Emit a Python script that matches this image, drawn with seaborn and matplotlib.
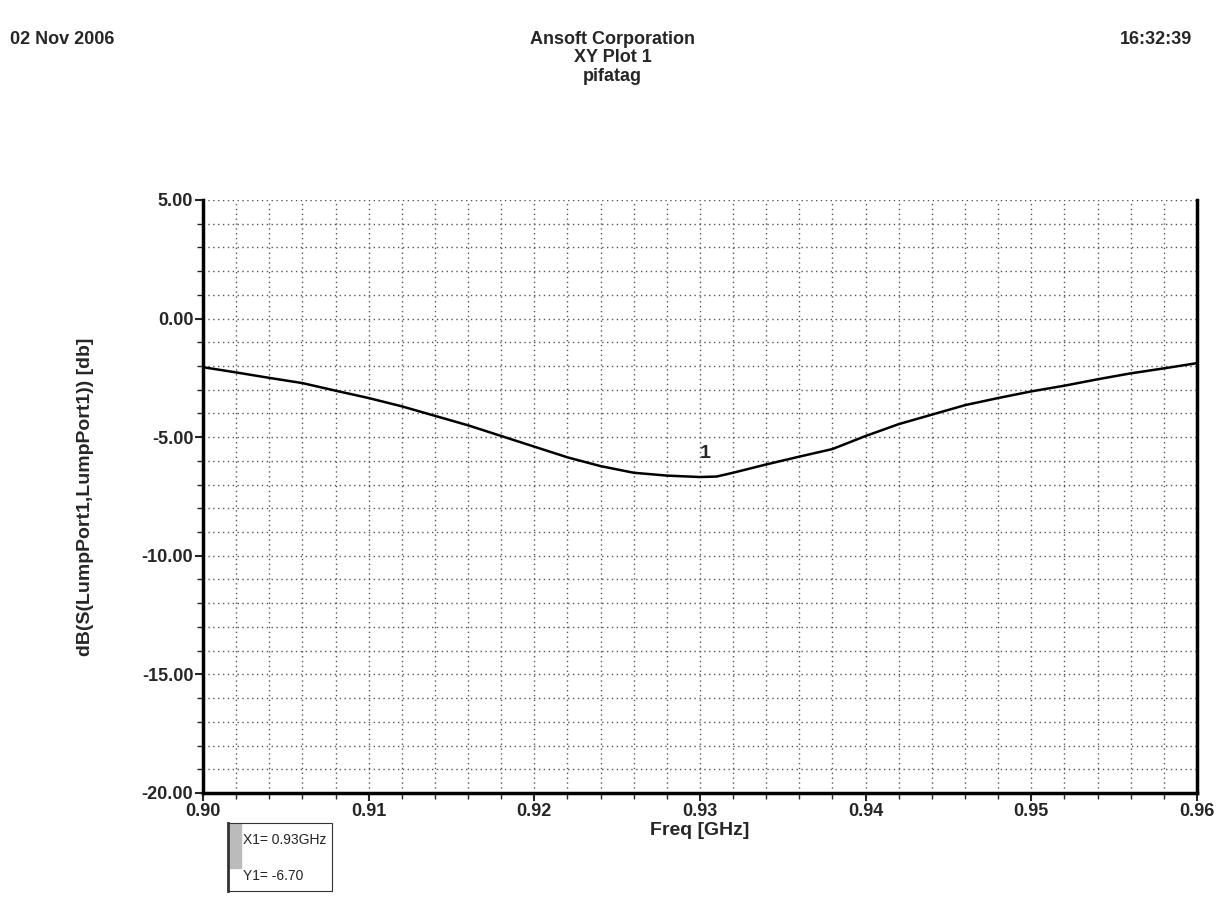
import numpy as np
import pandas as pd
import matplotlib
matplotlib.use("Agg")
import matplotlib.pyplot as plt
from matplotlib.ticker import MultipleLocator, FormatStrFormatter
import seaborn as sns

# S11 sweep
freq_ghz = [0.900, 0.902, 0.904, 0.906, 0.908, 0.910, 0.912, 0.914, 0.916, 0.918,
            0.920, 0.922, 0.924, 0.926, 0.928, 0.929, 0.930, 0.931, 0.932, 0.934,
            0.936, 0.938, 0.940, 0.942, 0.944, 0.946, 0.948, 0.950, 0.952, 0.954,
            0.956, 0.958, 0.960]
s11_db = [-2.05, -2.27, -2.50, -2.72, -3.04, -3.35, -3.70, -4.10, -4.50, -4.95,
          -5.40, -5.85, -6.22, -6.50, -6.62, -6.65, -6.68, -6.66, -6.50, -6.15,
          -5.82, -5.50, -4.95, -4.45, -4.05, -3.65, -3.35, -3.07, -2.83, -2.56,
          -2.31, -2.10, -1.88]
marker_x = 0.93
marker_y = -6.70

df = pd.DataFrame({"Freq": freq_ghz, "dB": s11_db})

sns.set_style("white")
plt.rcParams["font.family"] = ["Liberation Sans", "DejaVu Sans"]

fig = plt.figure(figsize=(12.25, 9.16), dpi=100)
ax = fig.add_axes([0.1657, 0.1343, 0.8114, 0.6474])

sns.lineplot(data=df, x="Freq", y="dB", ax=ax, color="black", linewidth=1.8)

ax.set_xlim(0.90, 0.96)
ax.set_ylim(-20, 5)
ax.xaxis.set_major_locator(MultipleLocator(0.01))
ax.xaxis.set_minor_locator(MultipleLocator(0.002))
ax.yaxis.set_major_locator(MultipleLocator(5))
ax.yaxis.set_minor_locator(MultipleLocator(1))
ax.xaxis.set_major_formatter(FormatStrFormatter("%.2f"))
ax.yaxis.set_major_formatter(FormatStrFormatter("%.2f"))

ax.grid(True, which="both", linestyle=(0, (1, 2.5)), color="#555555", linewidth=1)
ax.tick_params(axis="both", which="major", direction="out", length=6, width=1.5,
               labelsize=13, bottom=True, left=True, pad=1)
ax.tick_params(axis="both", which="minor", direction="out", length=4, width=1,
               bottom=True, left=True)
for lbl in ax.get_xticklabels() + ax.get_yticklabels():
    lbl.set_fontweight("bold")

for side in ["left", "bottom", "right"]:
    ax.spines[side].set_color("black")
    ax.spines[side].set_linewidth(2.5)
ax.spines["top"].set_visible(False)

ax.set_xlabel("Freq [GHz]", fontsize=14, fontweight="bold", labelpad=2)
ax.set_ylabel("dB(S(LumpPort1,LumpPort1)) [db]", fontsize=14, fontweight="bold", labelpad=34)

# marker label near the minimum
ax.text(marker_x + 0.0003, marker_y + 0.65, "1", fontsize=14, fontweight="bold",
        ha="center", va="bottom")

# header
hdr = dict(va="center", fontsize=13, fontweight="bold")
fig.text(0.5, 0.957, "Ansoft Corporation", ha="center", **hdr)
fig.text(0.5, 0.937, "XY Plot 1", ha="center", **hdr)
fig.text(0.5, 0.917, "pifatag", ha="center", **hdr)
fig.text(0.008, 0.957, "02 Nov 2006", ha="left", **hdr)
fig.text(0.973, 0.957, "16:32:39", ha="right", **hdr)

# marker readout box
box = fig.add_axes([0.186, 0.027, 0.085, 0.074])
box.set_xticks([])
box.set_yticks([])
for s in box.spines.values():
    s.set_linestyle((0, (1, 1)))
    s.set_color("#333333")
box.spines["left"].set_linestyle("-")
box.spines["left"].set_linewidth(2)
box.axvspan(0, 0.13, ymin=0.35, ymax=1, color="#bbbbbb")
box.set_xlim(0, 1)
box.set_ylim(0, 1)
box.text(0.15, 0.75, f"X1= {marker_x:.2f}GHz", fontsize=10, va="center", ha="left", color="#222222")
box.text(0.15, 0.22, f"Y1= {marker_y:.2f}", fontsize=10, va="center", ha="left", color="#222222")

fig.savefig("out.png", dpi=100)
